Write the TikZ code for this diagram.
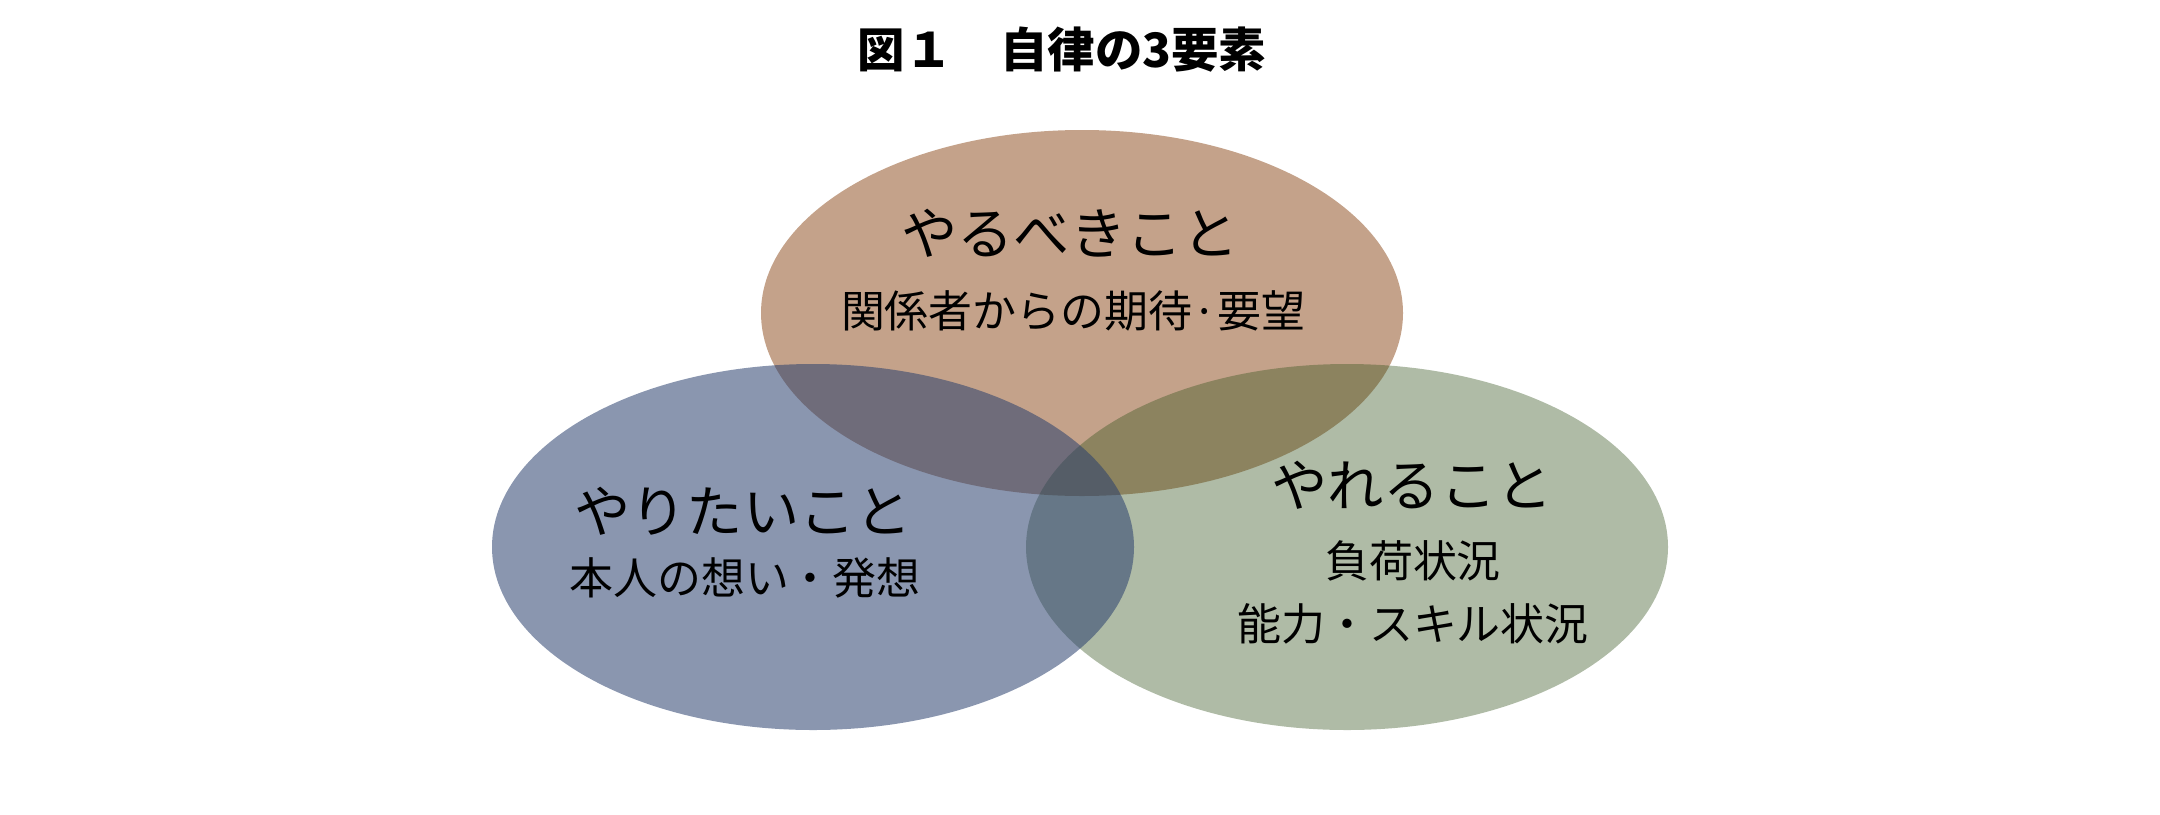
\documentclass[tikz,border=0pt]{standalone}
\usepackage{fontspec}
\setmainfont{Noto Sans CJK JP}
\usetikzlibrary{positioning, shapes.geometric}
\definecolor{shouldfill}{HTML}{94562A}
\definecolor{canfill}{HTML}{375520}
\definecolor{wantfill}{HTML}{2A406E}
\tikzset{
    setblob/.style 2 args={
        ellipse, draw=none, fill=#1, fill opacity=#2,
        minimum width=6.42cm, minimum height=3.66cm, inner sep=0pt,
    },
    headtext/.style={
        font=\fontsize{16pt}{19pt}\selectfont, inner sep=0pt, text=black,
    },
    subtext/.style={
        font=\fontsize{12.5pt}{15pt}\selectfont, inner sep=0pt, text=black,
    },
}

\begin{document}
\begin{tikzpicture}[x=1cm, y=1cm]
\useasboundingbox (0,0) rectangle (21.6,-8.14);

% ── Title ────────────────────────────────────────────────────
\node[font=\fontsize{13.5pt}{16pt}\selectfont\bfseries, inner sep=0pt] (title) at (10.62,-0.50) {図１　自律の3要素};

% ── The three sets (top first, then right, left on top) ──────
\node[setblob={shouldfill}{0.55}] (should) at (10.82,-3.13) {};
\node[setblob={canfill}{0.40}]    (can)    at (13.47,-5.47) {};
\node[setblob={wantfill}{0.55}]   (want)   at (8.13,-5.47)  {};

% ── Labels ───────────────────────────────────────────────────
\node[headtext] (shouldhead) at (10.70,-2.33) {やるべきこと};
\node[subtext]  (shouldsub)  at (10.73,-3.11) {関係者からの期待·要望};

\node[headtext] (wanthead) at (7.43,-5.11) {やりたいこと};
\node[subtext]  (wantsub)  at (7.45,-5.78) {本人の想い・発想};

\node[headtext] (canhead)  at (14.12,-4.85) {やれること};
\node[subtext]  (cansub)   at (14.13,-5.61) {負荷状況};
\node[subtext]  (canskill) at (14.13,-6.24) {能力・スキル状況};

\end{tikzpicture}
\end{document}
